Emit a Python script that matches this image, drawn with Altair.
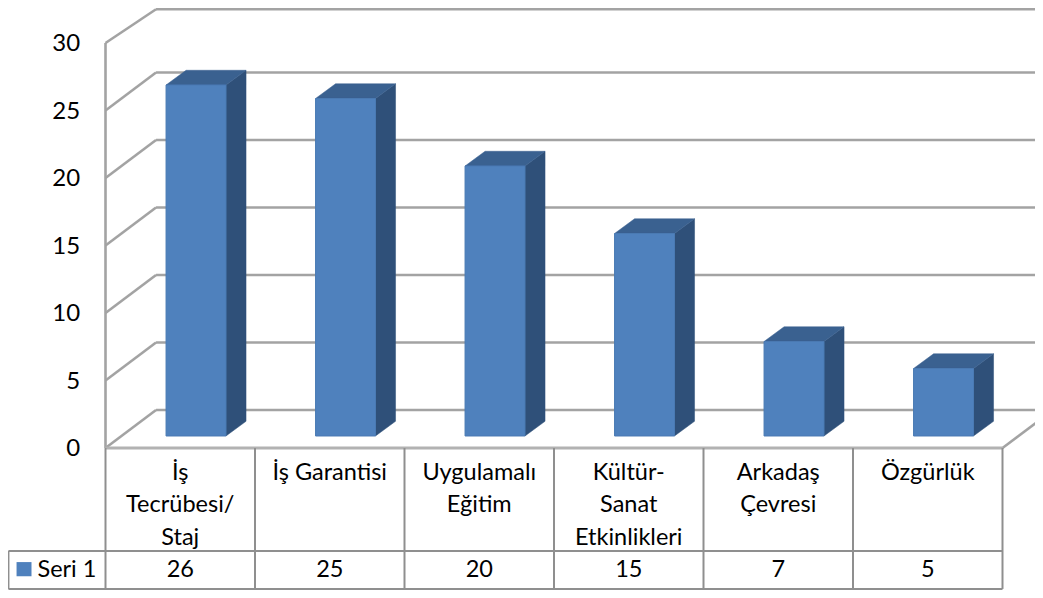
import altair as alt
import pandas as pd

# ---- chart content ----
series_name = "Seri 1"
categories = [["İş", "Tecrübesi/", "Staj"], ["İş Garantisi"], ["Uygulamalı", "Eğitim"],
              ["Kültür-", "Sanat", "Etkinlikleri"], ["Arkadaş", "Çevresi"], ["Özgürlük"]]
values = [26, 25, 20, 15, 7, 5]
y_ticks = [0, 5, 10, 15, 20, 25, 30]

# ---- projection of the 3D box, in data units ----
WALL_DX, WALL_DY = 0.338, 2.82
BAR_LEFT, BAR_W = 0.405, 0.401
BAR_DX, BAR_DY = 0.134, 1.09
BAR_BASE = 0.89
PX_W, PX_H = 1027, 582
XMIN = -0.6522
XMAX = XMIN + PX_W / 149.5
YMAX = 32.593
YMIN = YMAX - PX_H / 13.5
TOP_BACK = 32.5            # top of back wall, kept inside the page
LEG_LEFT = -0.6522
ROW1, ROW2 = -7.63, -10.44
LABEL_ROWS = [-1.85, -4.22, -6.67]
VALUE_ROW = -9.0

FONT = "Lato"
WALL = "#A3A3A3"
TABLE = "#8F8F8F"
FRONT, TOP, SIDE = "#4F81BD", "#3A6190", "#2F5079"

x_scale = alt.Scale(domain=[XMIN, XMAX], nice=False, zero=False)
y_scale = alt.Scale(domain=[YMIN, YMAX], nice=False, zero=False)
X = lambda f: alt.X(f"{f}:Q", scale=x_scale, axis=None, title=None)
Y = lambda f: alt.Y(f"{f}:Q", scale=y_scale, axis=None, title=None)


def segs(rows, color, width):
    d = pd.DataFrame(rows, columns=["x", "y", "x2", "y2"])
    return alt.Chart(d).mark_rule(color=color, strokeWidth=width).encode(
        x=X("x"), y=Y("y"), x2="x2:Q", y2="y2:Q")


# walls and grid
wall_rows = []
for v in y_ticks:
    by = TOP_BACK if v == 30 else v + WALL_DY
    wall_rows.append([0, v, WALL_DX, by])
    wall_rows.append([WALL_DX, by, XMAX, by])
wall_rows.append([0, 0, 0, 30])
wall_rows.append([6, 0, 6 + WALL_DX, WALL_DY])
walls = segs(wall_rows, WALL, 2.6)
floor = segs([[0, 0, 6, 0]], "#B2B2B2", 3)

# table lines
table_rows = [[i, 0, i, ROW2] for i in range(0, 7)]
table_rows += [[LEG_LEFT + 0.003, ROW1, 6, ROW1], [LEG_LEFT + 0.003, ROW2, 6, ROW2],
               [LEG_LEFT + 0.003, ROW1, LEG_LEFT + 0.003, ROW2]]
table = segs(table_rows, TABLE, 2)

# bars
n = range(len(values))
front_df = pd.DataFrame({"x": [i + BAR_LEFT for i in n], "x2": [i + BAR_LEFT + BAR_W for i in n],
                         "y": [BAR_BASE] * 6, "y2": [BAR_BASE + v for v in values]})
front = alt.Chart(front_df).mark_rect(color=FRONT, stroke="#4A7AB3", strokeWidth=1).encode(
    x=X("x"), x2="x2:Q", y=Y("y"), y2="y2:Q")

side_rows = []
top_rows = []
for i, v in zip(n, values):
    xr = i + BAR_LEFT + BAR_W
    side_rows.append({"b": i, "x": xr, "y": BAR_BASE, "y2": BAR_BASE + v})
    side_rows.append({"b": i, "x": xr + BAR_DX, "y": BAR_BASE + BAR_DY, "y2": BAR_BASE + v + BAR_DY})
    top_rows.append({"b": i, "y": BAR_BASE + v, "x": i + BAR_LEFT, "x2": xr})
    top_rows.append({"b": i, "y": BAR_BASE + v + BAR_DY, "x": i + BAR_LEFT + BAR_DX, "x2": xr + BAR_DX})
side = alt.Chart(pd.DataFrame(side_rows)).mark_area(color=SIDE, stroke=SIDE, strokeWidth=0.5).encode(
    x=X("x"), y=Y("y"), y2="y2:Q", detail="b:N")
top = alt.Chart(pd.DataFrame(top_rows)).mark_area(color=TOP, stroke=TOP, strokeWidth=0.5, orient="horizontal").encode(
    y=Y("y"), x=X("x"), x2="x2:Q", detail="b:N")

# y-axis labels
tick_df = pd.DataFrame({"x": [-0.17] * 7, "y": y_ticks, "t": [str(v) for v in y_ticks]})
ticks = alt.Chart(tick_df).mark_text(font=FONT, fontSize=24, align="right", baseline="middle", dy=1, color="#000").encode(
    x=X("x"), y=Y("y"), text="t:N")

# table labels
lab_rows = []
for i, lines in enumerate(categories):
    for k, line in enumerate(lines):
        lab_rows.append({"x": i + 0.5, "y": LABEL_ROWS[k], "t": line})
for i, v in enumerate(values):
    lab_rows.append({"x": i + 0.5, "y": VALUE_ROW, "t": str(v)})
labels = alt.Chart(pd.DataFrame(lab_rows)).mark_text(font=FONT, fontSize=23.5, align="center", baseline="middle", color="#000").encode(
    x=X("x"), y=Y("y"), text="t:N")

# legend key inside the table
key = alt.Chart(pd.DataFrame({"x": [-0.595], "x2": [-0.495], "y": [-8.45], "y2": [-9.5]})).mark_rect(color=FRONT).encode(
    x=X("x"), x2="x2:Q", y=Y("y"), y2="y2:Q")
key_text = alt.Chart(pd.DataFrame({"x": [-0.455], "y": [VALUE_ROW], "t": [series_name]})).mark_text(
    font=FONT, fontSize=23.5, align="left", baseline="middle", color="#000").encode(
    x=X("x"), y=Y("y"), text="t:N")

chart = alt.layer(walls, side, top, front, floor, table, ticks, labels, key, key_text).properties(
    width=PX_W, height=PX_H,
    padding=0,
    autosize=alt.AutoSizeParams(type="none"),
    background="white",
).configure_view(stroke=None)

chart.save("out.html", embed_options={"renderer": "svg", "actions": False})
